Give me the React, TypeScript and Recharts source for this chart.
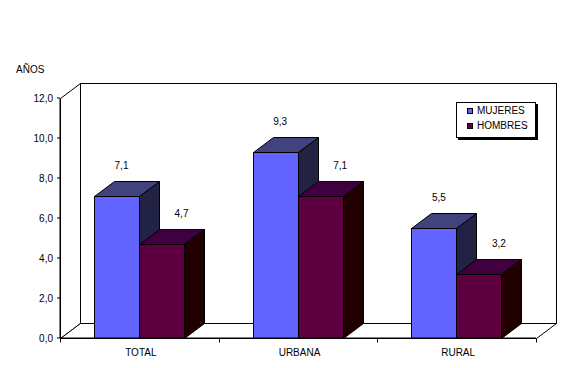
import React from 'react';
import { BarChart, Bar, XAxis, YAxis, ReferenceArea, Legend, LabelList } from 'recharts';

const categories = ['TOTAL', 'URBANA', 'RURAL'];
const mujeres = [7.1, 9.3, 5.5];
const hombres = [4.7, 7.1, 3.2];
const yTicks = [0, 2, 4, 6, 8, 10, 12];
const seriesNames = ['MUJERES', 'HOMBRES'];
const yTitle = 'AÑOS';

const data = categories.map((c, i) => ({ name: c, mujeres: mujeres[i], hombres: hombres[i] }));

const FONT = '"Liberation Sans", Arial, sans-serif';
const DX = 20;
const DY = 15;

const COLORS = {
  mujeres: { front: '#6363FF', top: '#42427E', side: '#222244' },
  hombres: { front: '#5E0040', top: '#400040', side: '#220000' },
};

const fmt = (v: number) => Number(v).toFixed(1).replace('.', ',');
const r = (v: number) => Math.round(v) + 0.5;

const makeBar = (c: { front: string; top: string; side: string }) => (props: any) => {
  const { x, y, width, height } = props;
  if (x == null || height == null || isNaN(height)) return null;
  const x0 = r(x);
  const x1 = r(x + width);
  const y0 = r(y);
  const y1 = r(y + height);
  return (
    <g stroke="#000" strokeWidth={1}>
      <polygon points={`${x0},${y0} ${x1},${y0} ${x1 + DX},${y0 - DY} ${x0 + DX},${y0 - DY}`} fill={c.top} />
      <polygon points={`${x1},${y0} ${x1 + DX},${y0 - DY} ${x1 + DX},${y1 - DY} ${x1},${y1}`} fill={c.side} />
      <rect x={x0} y={y0} width={x1 - x0} height={y1 - y0} fill={c.front} />
    </g>
  );
};

const makeLabel = (shift: number) => (p: any) => {
  const vb = p.viewBox || {};
  const x = Number(p.x ?? vb.x);
  const y = Number(p.y ?? vb.y);
  const w = Number(p.width ?? vb.width);
  if (isNaN(x) || isNaN(y)) return null;
  return (
    <text x={x + w / 2 + shift} y={y - 31 + 4} textAnchor="middle" fontSize={10} fontFamily={FONT} fill="#000">
      {fmt(p.value)}
    </text>
  );
};

const Frame = (props: any) => {
  const { x, y, width, height } = props;
  const x0 = r(x);
  const y0 = r(y);
  const x1 = r(x + width);
  const y1 = r(y + height);
  return (
    <g stroke="#000" strokeWidth={1} fill="#fff">
      <rect x={x0 + DX} y={y0 - DY} width={x1 - x0} height={y1 - y0} />
      <polygon points={`${x0},${y0} ${x0 + DX},${y0 - DY} ${x0 + DX},${y1 - DY} ${x0},${y1}`} />
      <polygon points={`${x0},${y1} ${x0 + DX},${y1 - DY} ${x1 + DX},${y1 - DY} ${x1},${y1}`} />
    </g>
  );
};

const XTick = (p: any) => {
  const { x, y, payload, index } = p;
  const band = payload && payload.offset ? payload.offset * 2 : Number(p.width || 476) / categories.length;
  const axisY = Math.round(y - 6) + 0.5;
  const left = r(x - band / 2);
  const right = r(x + band / 2);
  return (
    <g>
      <line x1={left} y1={axisY} x2={left} y2={axisY + 4} stroke="#000" />
      {index === categories.length - 1 && <line x1={right} y1={axisY} x2={right} y2={axisY + 4} stroke="#000" />}
      <text x={x + 1.5} y={axisY + 17.5} textAnchor="middle" fontSize={10} fontFamily={FONT} fill="#000">
        {payload.value}
      </text>
    </g>
  );
};

const LegendBox = () => {
  const items = [
    { name: seriesNames[0], color: COLORS.mujeres.front },
    { name: seriesNames[1], color: COLORS.hombres.front },
  ];
  return (
    <div
      style={{
        position: 'relative',
        width: 80,
        height: 36,
        boxSizing: 'border-box',
        border: '1px solid #000',
        background: '#fff',
        boxShadow: '2px 2px 0 #000',
        fontFamily: FONT,
        fontSize: 10,
        lineHeight: '12px',
        color: '#000',
      }}
    >
      {items.map((it, i) => (
        <div key={it.name} style={{ position: 'absolute', left: 10, top: 2 + i * 15, height: 12, whiteSpace: 'nowrap' }}>
          <span
            style={{
              position: 'absolute',
              left: 0,
              top: 3,
              width: 6,
              height: 6,
              background: it.color,
              border: '1px solid #000',
              boxSizing: 'border-box',
            }}
          />
          <span style={{ position: 'absolute', left: 10, top: 0 }}>{it.name}</span>
        </div>
      ))}
    </div>
  );
};

export default function App() {
  return (
    <div style={{ position: 'absolute', left: 0, top: 0, width: 588, height: 368, background: '#fff', overflow: 'hidden' }}>
      <div style={{ position: 'absolute', left: 16, top: 64, fontFamily: FONT, fontSize: 10, lineHeight: '12px', color: '#000' }}>
        {yTitle}
      </div>
      <BarChart
        width={588}
        height={368}
        data={data}
        margin={{ top: 98, right: 52, left: 0, bottom: 0 }}
        barCategoryGap={34}
        barGap={0}
      >
        <ReferenceArea y1={0} y2={12} ifOverflow="visible" shape={Frame} />
        <XAxis
          dataKey="name"
          height={30}
          interval={0}
          axisLine={{ stroke: '#000' }}
          tickLine={false}
          tickSize={4}
          tickMargin={2}
          tick={<XTick />}
        />
        <YAxis
          type="number"
          domain={[0, 12]}
          ticks={yTicks}
          interval={0}
          width={60}
          tickFormatter={fmt}
          axisLine={{ stroke: '#000' }}
          tickLine={{ stroke: '#000' }}
          tickSize={3}
          tickMargin={4}
          tick={{ fill: '#000', fontSize: 10, fontFamily: FONT }}
        />
        <Legend
          layout="vertical"
          align="center"
          verticalAlign="middle"
          wrapperStyle={{ position: 'absolute', left: 456, top: 102, width: 82, height: 38 }}
          content={<LegendBox />}
        />
        <Bar dataKey="mujeres" name={seriesNames[0]} fill={COLORS.mujeres.front} isAnimationActive={false} shape={makeBar(COLORS.mujeres)}>
          <LabelList dataKey="mujeres" content={makeLabel(5)} />
        </Bar>
        <Bar dataKey="hombres" name={seriesNames[1]} fill={COLORS.hombres.front} isAnimationActive={false} shape={makeBar(COLORS.hombres)}>
          <LabelList dataKey="hombres" content={makeLabel(20)} />
        </Bar>
      </BarChart>
    </div>
  );
}
